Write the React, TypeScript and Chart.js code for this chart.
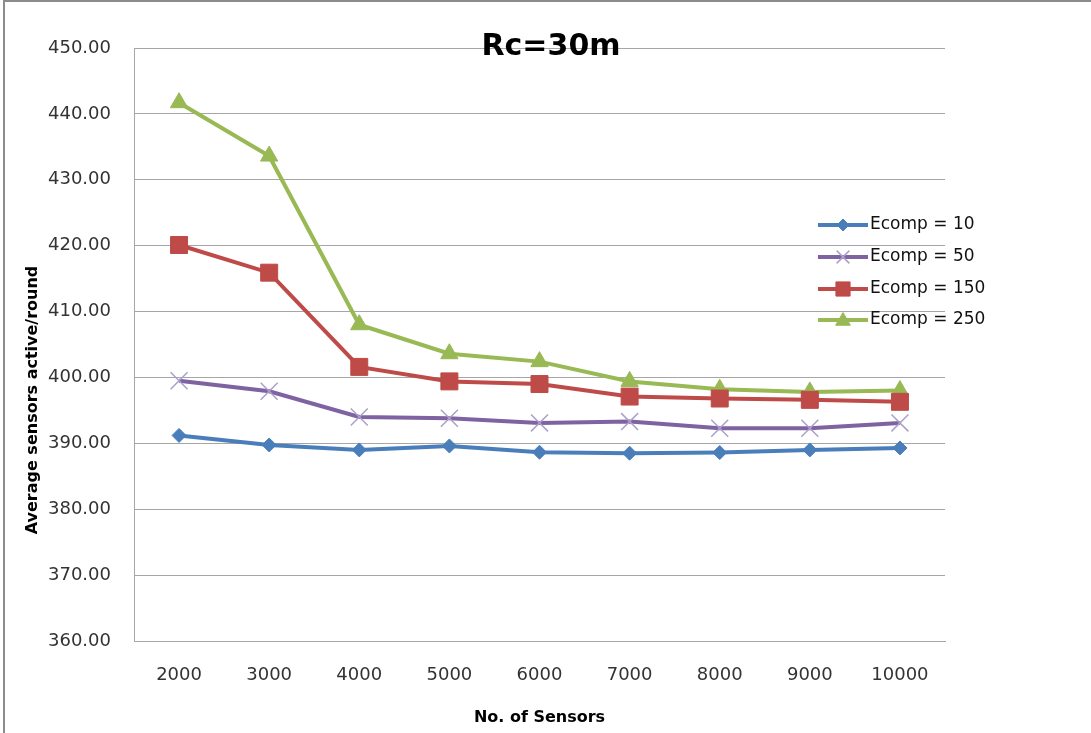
import React, { useEffect, useRef } from 'react';
import { Chart, registerables } from 'chart.js';
import { drawPoint } from 'chart.js/helpers';

Chart.register(...registerables);

const categories = ['2000', '3000', '4000', '5000', '6000', '7000', '8000', '9000', '10000'];
const ecomp10 = [391.2, 389.75, 389.0, 389.6, 388.65, 388.5, 388.6, 389.0, 389.3];
const ecomp50 = [399.5, 397.9, 394.0, 393.8, 393.1, 393.3, 392.3, 392.3, 393.1];
const ecomp150 = [420.1, 415.9, 401.6, 399.4, 399.0, 397.1, 396.8, 396.6, 396.3];
const ecomp250 = [441.7, 433.6, 408.0, 403.6, 402.4, 399.4, 398.2, 397.8, 398.0];
const seriesLabels = ['Ecomp = 10', 'Ecomp = 50', 'Ecomp = 150', 'Ecomp = 250'];
const yMin = 360;
const yMax = 450;
const yStep = 10;
const chartTitle = 'Rc=30m';
const xTitle = 'No. of Sensors';
const yTitle = 'Average sensors active/round';

const FONT = "'DejaVu Sans', sans-serif";

const overlayPlugin = {
  id: 'overlay',
  beforeDraw(chart: any) {
    const ctx = chart.ctx;
    ctx.save();
    ctx.fillStyle = '#ffffff';
    ctx.fillRect(0, 0, chart.width, chart.height);
    ctx.strokeStyle = '#8c8c8c';
    ctx.lineWidth = 2;
    ctx.beginPath();
    ctx.moveTo(4, chart.height);
    ctx.lineTo(4, 1);
    ctx.lineTo(chart.width, 1);
    ctx.stroke();
    ctx.restore();
  },
  afterDraw(chart: any) {
    const ctx = chart.ctx;
    const area = chart.chartArea;
    ctx.save();
    // title
    ctx.fillStyle = '#000';
    ctx.font = `bold 30px ${FONT}`;
    ctx.textAlign = 'center';
    ctx.textBaseline = 'alphabetic';
    ctx.fillText(chartTitle, 551, 55);
    // x title
    ctx.font = `bold 16px ${FONT}`;
    ctx.textBaseline = 'middle';
    ctx.fillText(xTitle, (area.left + area.right) / 2, 718);
    // y title
    ctx.save();
    ctx.translate(33, 400);
    ctx.rotate(-Math.PI / 2);
    ctx.fillText(yTitle, 0, 0);
    ctx.restore();
    // legend
    const rows = [225, 257, 289, 320];
    const legendRadius = [6, 9, 10, 8.5];
    chart.data.datasets.forEach((ds: any, i: number) => {
      const y = rows[i];
      ctx.strokeStyle = ds.borderColor;
      ctx.lineWidth = 4;
      ctx.beginPath();
      ctx.moveTo(818, y);
      ctx.lineTo(868, y);
      ctx.stroke();
      ctx.fillStyle = ds.pointBackgroundColor;
      ctx.strokeStyle = ds.pointBorderColor;
      ctx.lineWidth = ds.pointBorderWidth;
      drawPoint(
        ctx,
        { pointStyle: ds.pointStyle, rotation: 0, radius: legendRadius[i], borderWidth: ds.pointBorderWidth },
        843,
        y + (ds.pointStyle === 'triangle' ? 1 : 0)
      );
      ctx.fillStyle = '#111';
      ctx.font = `17px ${FONT}`;
      ctx.textAlign = 'left';
      ctx.textBaseline = 'middle';
      ctx.fillText(ds.label, 870, y);
    });
    ctx.restore();
  },
};

export default function App() {
  const ref = useRef<HTMLCanvasElement>(null);
  useEffect(() => {
    if (!ref.current) return;
    const chart = new Chart(ref.current, {
      type: 'line',
      data: {
        labels: categories,
        datasets: [
          {
            label: seriesLabels[0],
            data: ecomp10,
            borderColor: '#4a7ebb',
            backgroundColor: '#4a7ebb',
            pointBackgroundColor: '#4a7ebb',
            pointBorderColor: '#4a7ebb',
            pointStyle: 'rectRot',
            pointRadius: 7,
            pointBorderWidth: 1,
            borderWidth: 4,
            tension: 0,
          },
          {
            label: seriesLabels[1],
            data: ecomp50,
            borderColor: '#7e62a1',
            backgroundColor: '#7e62a1',
            pointBackgroundColor: '#ab9fcb',
            pointBorderColor: '#ab9fcb',
            pointStyle: 'crossRot',
            pointRadius: 12,
            pointBorderWidth: 1.5,
            borderWidth: 4,
            tension: 0,
          },
          {
            label: seriesLabels[2],
            data: ecomp150,
            borderColor: '#be4b48',
            backgroundColor: '#be4b48',
            pointBackgroundColor: '#be4b48',
            pointBorderColor: '#be4b48',
            pointStyle: 'rect',
            pointRadius: 12,
            pointBorderWidth: 1,
            borderWidth: 4,
            tension: 0,
          },
          {
            label: seriesLabels[3],
            data: ecomp250,
            borderColor: '#98b954',
            backgroundColor: '#98b954',
            pointBackgroundColor: '#98b954',
            pointBorderColor: '#98b954',
            pointStyle: 'triangle',
            pointRadius: 10,
            pointBorderWidth: 1,
            borderWidth: 4,
            tension: 0,
          },
        ],
      },
      options: {
        animation: false,
        responsive: false,
        layout: { padding: { top: 48, right: 146, left: 0, bottom: 0 } },
        plugins: {
          legend: { display: false },
          title: { display: false },
          tooltip: { enabled: false },
        },
        scales: {
          x: {
            offset: true,
            grid: { display: false, drawTicks: false },
            border: { display: true, color: '#a6a6a6', width: 1 },
            ticks: { color: '#333', font: { family: FONT, size: 18 }, padding: 24, maxRotation: 0 },
            afterFit: (s: any) => { s.height = 92; },
          },
          y: {
            min: yMin,
            max: yMax,
            grid: { color: '#a6a6a6', drawTicks: false, lineWidth: 1 },
            border: { display: true, color: '#a6a6a6', width: 1 },
            ticks: {
              stepSize: yStep,
              color: '#333',
              font: { family: FONT, size: 18 },
              padding: 23,
              callback: (v: any) => Number(v).toFixed(2),
            },
            afterFit: (s: any) => { s.width = 134; },
          },
        },
      },
      plugins: [overlayPlugin],
    });
    return () => chart.destroy();
  }, []);
  return (
    <div style={{ position: 'fixed', left: 0, top: 0, width: 1091, height: 733 }}>
      <canvas ref={ref} width={1091} height={733} style={{ display: 'block' }} />
    </div>
  );
}
